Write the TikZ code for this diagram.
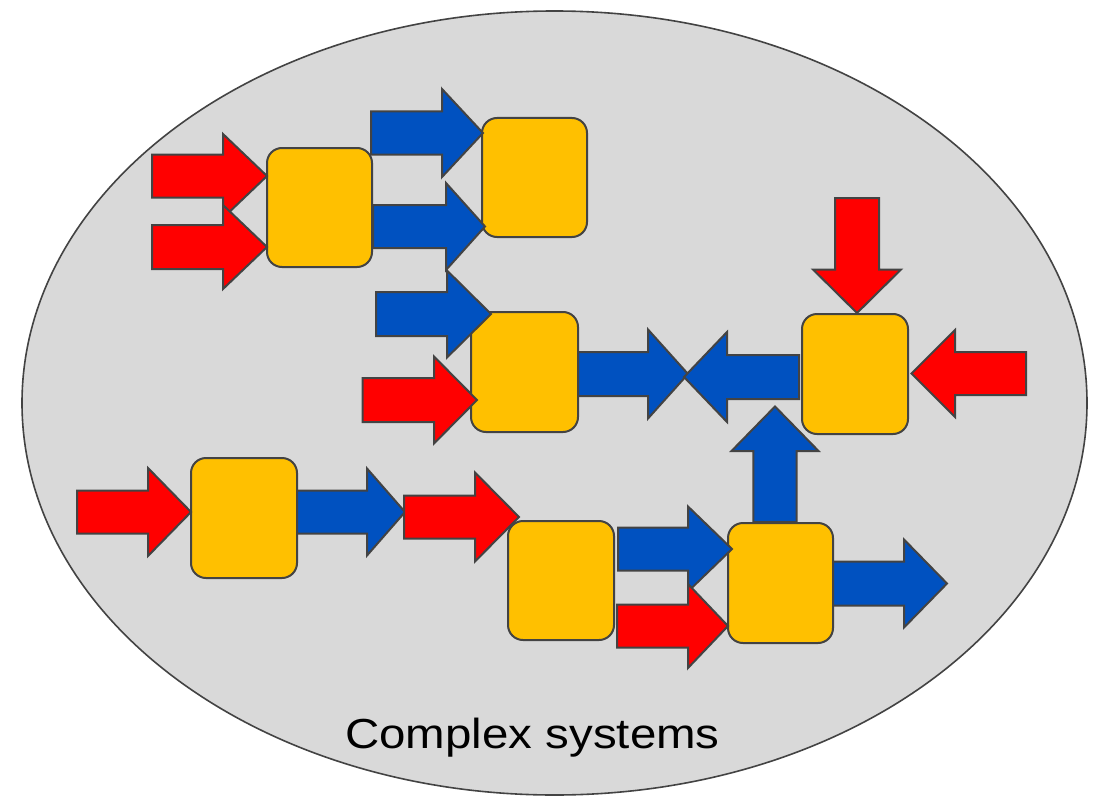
\documentclass[tikz,border=0pt]{standalone}
\usepackage{fontspec}
\setmainfont{Liberation Sans}
\definecolor{bgray}{RGB}{217,217,217}
\definecolor{edge}{RGB}{67,67,67}
\definecolor{boxfill}{RGB}{255,192,0}
\definecolor{bblue}{RGB}{0,81,192}
\definecolor{rred}{RGB}{255,0,0}
% horizontal block arrow: style, tail x, head-base x, tip x, centre y, shaft half, head half
\newcommand\harr[7]{\draw[#1] (#2,#5-#6) -- (#3,#5-#6) -- (#3,#5-#7) -- (#4,#5) -- (#3,#5+#7) -- (#3,#5+#6) -- (#2,#5+#6) -- cycle;}
% vertical block arrow: style, tail y, head-base y, tip y, centre x, shaft half, head half
\newcommand\varr[7]{\draw[#1] (#5-#6,#2) -- (#5-#6,#3) -- (#5-#7,#3) -- (#5,#4) -- (#5+#7,#3) -- (#5+#6,#3) -- (#5+#6,#2) -- cycle;}
\tikzset{
  box/.style={draw=edge, fill=boxfill, line width=2pt, rounded corners=15pt, inner sep=0pt},
  redarr/.style={draw=edge, fill=rred, line width=2pt, line join=miter},
  bluearr/.style={draw=edge, fill=bblue, line width=2pt, line join=miter},
}
\begin{document}
\begin{tikzpicture}[x=1pt,y=-1pt]
\useasboundingbox (0,0) rectangle (1099,797);
\draw[draw=edge, fill=bgray, line width=1.6pt] (554.5,403) ellipse [x radius=532.5, y radius=392];

% boxes
\node[box, minimum width=105pt, minimum height=119pt] (A) at (319.5,207.5) {};
\node[box, minimum width=105pt, minimum height=119pt] (B) at (534.5,177.5) {};
\node[box, minimum width=107pt, minimum height=120pt] (C) at (524.5,372) {};
\node[box, minimum width=106pt, minimum height=120pt] (D) at (855,374) {};
\node[box, minimum width=105pt, minimum height=120pt] (E) at (780.5,583) {};
\node[box, minimum width=106pt, minimum height=120pt] (F) at (244,518) {};
\node[box, minimum width=106pt, minimum height=119pt] (G) at (561,580.5) {};

% arrows
\harr{redarr}{152}{223}{267}{176}{21.5}{42}
\harr{redarr}{152}{223}{267}{247}{22}{42}
\harr{bluearr}{371}{442}{483}{133}{21.5}{44}
\harr{bluearr}{373}{446}{485}{226.5}{21.5}{43.5}
\harr{bluearr}{376}{447}{491}{314}{22}{43.5}
\harr{redarr}{362.5}{434}{477}{400}{22}{43.5}
\harr{bluearr}{578}{648}{688}{374}{22}{44.5}
\harr{bluearr}{799}{727}{684}{377}{22}{45}
\harr{redarr}{1026}{955}{911.5}{373.5}{21.5}{43.5}
\harr{redarr}{77}{148}{191}{512}{21.5}{44}
\harr{bluearr}{297}{367}{405}{512}{21.5}{43.5}
\harr{redarr}{404}{475}{519}{517}{21.5}{44.5}
\harr{bluearr}{618}{688}{732}{549}{21.5}{42.5}
\harr{redarr}{617}{688}{728}{626}{21.5}{42}
\harr{bluearr}{833}{904}{947}{583.5}{22}{44}
\varr{redarr}{198}{269.5}{313}{857}{22}{44}
\varr{bluearr}{522}{451}{406.5}{775}{21.7}{43.5}

\node[anchor=base, inner sep=0pt, font=\fontsize{42}{50}\selectfont] (label) at (532.5,748) {\scalebox{1.13}[1]{Complex systems}};
\end{tikzpicture}
\end{document}
